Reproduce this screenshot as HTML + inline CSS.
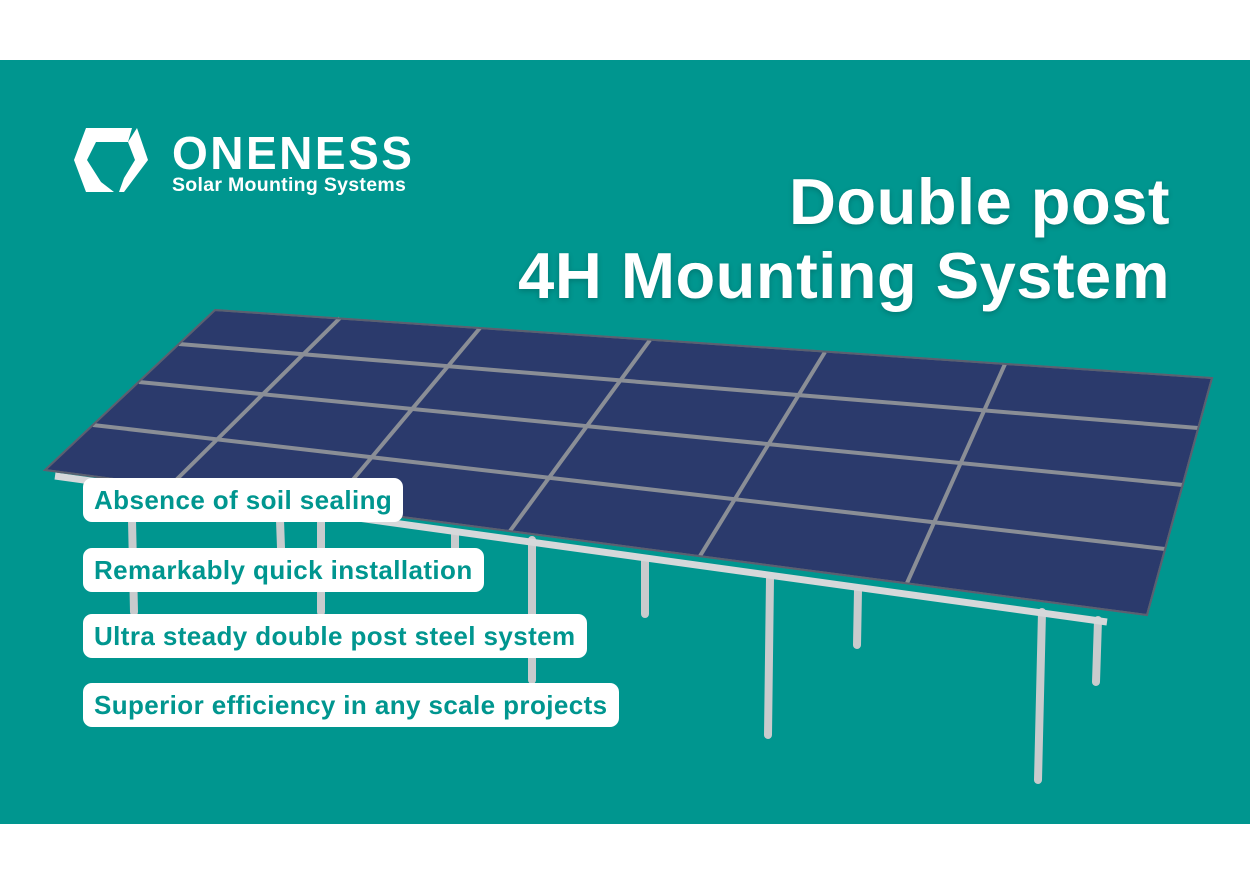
<!DOCTYPE html>
<html><head><meta charset="utf-8"><style>
body{margin:0;width:1250px;height:884px;background:#fff;position:relative;overflow:hidden;font-family:"Liberation Sans",sans-serif}
.bg{position:absolute;left:0;top:60px;width:1250px;height:764px;background:#00968f}
.t{position:absolute;right:80px;color:#fff;font-weight:bold;font-size:65px;white-space:nowrap;text-shadow:0 2px 6px rgba(0,0,0,.2);letter-spacing:.5px}
.pill{position:absolute;left:83px;height:44px;background:#fff;border-radius:9px;color:#00968f;font-weight:bold;font-size:26px;line-height:44px;padding:0 11px;white-space:nowrap;letter-spacing:.4px}
.logo{position:absolute;left:172px;top:126px;color:#fff;font-weight:bold;font-size:46px;letter-spacing:2.5px}
.sub{position:absolute;left:172px;top:174px;color:#fff;font-weight:bold;font-size:19.5px;letter-spacing:.3px}
</style></head><body>
<div class="bg"></div>
<svg style="position:absolute;left:0;top:0" width="1250" height="884">
<g fill="#fff">
<polygon points="86,128 132,128 128,142 96,142 87,160 74,160"/>
<polygon points="74,160 87,160 101,182 114,192 86,192"/>
<polygon points="137,128 148,160 124,192 119,192 124,178 135,160 128,142"/>
</g>
<g stroke="#c9cbcd" stroke-width="8" stroke-linecap="round">
<line x1="132" y1="520" x2="134" y2="612"/><line x1="280" y1="520" x2="281" y2="548"/>
<line x1="321" y1="520" x2="321" y2="612"/><line x1="455" y1="535" x2="455" y2="548"/>
<line x1="532" y1="540" x2="532" y2="680"/><line x1="645" y1="560" x2="645" y2="614"/>
<line x1="770" y1="578" x2="768" y2="735"/><line x1="858" y1="590" x2="857" y2="645"/>
<line x1="1042" y1="612" x2="1038" y2="780"/><line x1="1098" y1="620" x2="1096" y2="682"/>
</g>
<line x1="55" y1="476" x2="1107" y2="622" stroke="#d6d8da" stroke-width="7"/>
<polygon points="215,310 1212,378 1147,615 45,470" fill="#2b3a6c" stroke="#6d7280" stroke-width="2"/>
<g stroke="#8a8e96" stroke-width="4">
<line x1="340" y1="318" x2="170" y2="486"/>
<line x1="480" y1="328" x2="330" y2="507"/>
<line x1="650" y1="340" x2="510" y2="531"/>
<line x1="825" y1="352" x2="700" y2="556"/>
<line x1="1005" y1="364" x2="907" y2="583"/>
<line x1="179" y1="344" x2="1198" y2="428"/>
<line x1="139" y1="382" x2="1183" y2="485"/>
<line x1="93" y1="425" x2="1165" y2="549"/>
</g>
<polygon points="215,310 1212,378 1147,615 45,470" fill="none" stroke="#5a6070" stroke-width="2"/>
</svg>
<div class="logo">ONENESS</div>
<div class="sub">Solar Mounting Systems</div>
<div class="t" style="top:164px">Double post</div>
<div class="t" style="top:238px">4H Mounting System</div>
<div class="pill" style="top:478px">Absence of soil sealing</div>
<div class="pill" style="top:548px">Remarkably quick installation</div>
<div class="pill" style="top:614px">Ultra steady double post steel system</div>
<div class="pill" style="top:683px">Superior efficiency in any scale projects</div>
</body></html>
